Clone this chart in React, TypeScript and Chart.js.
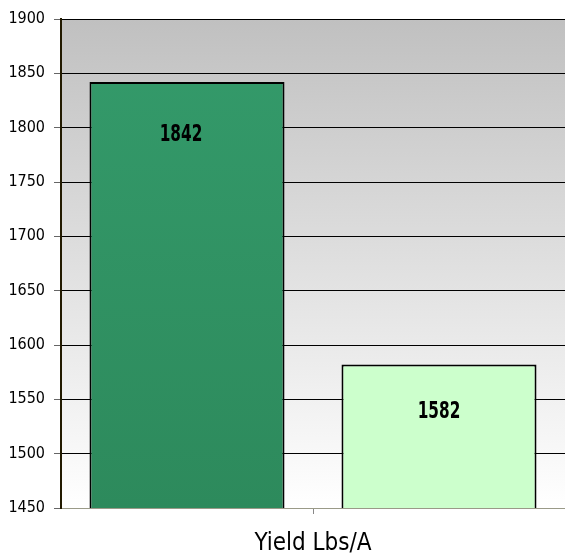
import React, { useEffect, useRef } from "react";
import { Chart, registerables } from "chart.js";

Chart.register(...registerables);

const categories = ["Yield Lbs/A"];
const seriesA = [1842];
const seriesB = [1582];
const yMin = 1450;
const yMax = 1900;
const yStep = 50;

const FONT = "'DejaVu Sans Condensed', 'DejaVu Sans', sans-serif";

const bgPlugin = {
  id: "plotBg",
  beforeDraw(chart: any) {
    const { ctx, chartArea } = chart;
    if (!chartArea) return;
    const g = ctx.createLinearGradient(0, chartArea.top, 0, chartArea.bottom);
    g.addColorStop(0, "#c0c0c0");
    g.addColorStop(1, "#ffffff");
    ctx.save();
    ctx.fillStyle = g;
    ctx.fillRect(chartArea.left, chartArea.top, chartArea.right - chartArea.left, chartArea.bottom - chartArea.top);
    ctx.restore();
  },
};

const labelPlugin = {
  id: "barLabels",
  afterDatasetsDraw(chart: any) {
    const { ctx } = chart;
    chart.data.datasets.forEach((ds: any, i: number) => {
      const meta = chart.getDatasetMeta(i);
      meta.data.forEach((el: any, j: number) => {
        ctx.save();
        ctx.translate(el.x - (i === 0 ? 6 : 0), el.y + (i === 0 ? 53 : 47));
        ctx.scale(0.74, 1);
        ctx.font = `bold 23px ${FONT}`;
        ctx.fillStyle = "#000";
        ctx.textAlign = "center";
        ctx.textBaseline = "middle";
        ctx.fillText(String(ds.data[j]), 0, 0);
        ctx.restore();
      });
    });
  },
};

export default function App() {
  const ref = useRef<HTMLCanvasElement | null>(null);
  useEffect(() => {
    document.body.style.margin = "0";
    const canvas = ref.current!;
    const chart = new Chart(canvas, {
      type: "bar",
      data: {
        labels: categories,
        datasets: [
          {
            data: seriesA,
            backgroundColor: (c: any) => {
              const ca = c.chart.chartArea;
              if (!ca) return "#339966";
              const g = c.chart.ctx.createLinearGradient(0, ca.top, 0, ca.bottom);
              g.addColorStop(0, "#349b6b");
              g.addColorStop(1, "#2d8a5c");
              return g;
            },
            borderColor: "#000",
            borderWidth: 2,
            borderSkipped: false,
          },
          {
            data: seriesB,
            backgroundColor: "#ccffcc",
            borderColor: "#000",
            borderWidth: 2,
            borderSkipped: false,
          },
        ],
      },
      options: {
        animation: false,
        responsive: false,
        maintainAspectRatio: false,
        layout: { padding: { top: 19, right: 0, bottom: 0, left: 0 } },
        datasets: { bar: { categoryPercentage: 1, barPercentage: 0.774 } },
        plugins: { legend: { display: false }, tooltip: { enabled: false } },
        scales: {
          x: {
            offset: true,
            grid: {
              display: true,
              offset: false,
              drawOnChartArea: false,
              drawTicks: true,
              tickLength: 6,
              color: "#888",
            },
            border: { display: true, color: "#9a9a88", width: 1 },
            ticks: {
              color: "#000",
              font: { family: FONT, size: 24 },
              padding: 15,
            },
            afterFit: (s: any) => {
              s.height = 46;
            },
          },
          y: {
            min: yMin,
            max: yMax,
            grid: { color: "#000", lineWidth: 1, tickLength: 7, tickColor: "#666" },
            border: { display: true, color: "#221a00", width: 2 },
            ticks: {
              stepSize: yStep,
              color: "#000",
              padding: 9,
              font: { family: FONT, size: 16 },
              callback: (v: any) => String(v),
            },
            afterFit: (s: any) => {
              s.width = 61;
            },
          },
        },
      },
      plugins: [bgPlugin, labelPlugin],
    });
    return () => chart.destroy();
  }, []);
  return <canvas ref={ref} width={565} height={554} style={{ display: "block" }} />;
}
